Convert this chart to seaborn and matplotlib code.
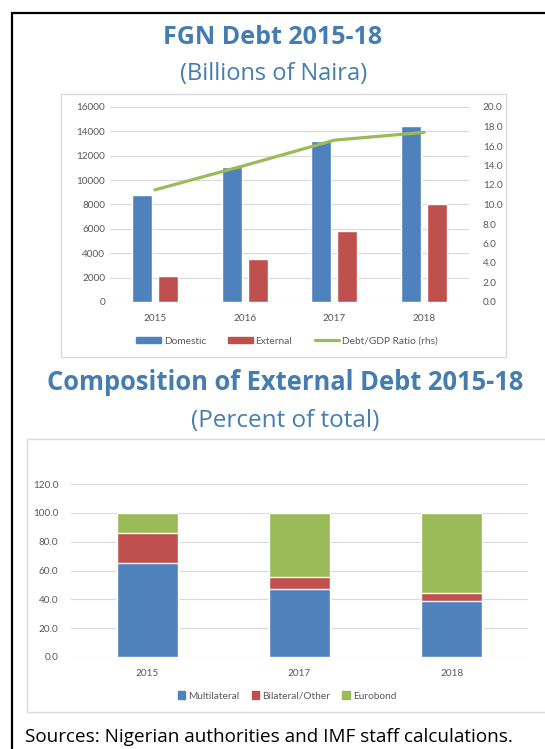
import matplotlib
matplotlib.use("Agg")
import matplotlib.pyplot as plt
import seaborn as sns
import numpy as np
import pandas as pd
from matplotlib.patches import Patch, Rectangle
from matplotlib.lines import Line2D

# Data
years = ["2015", "2016", "2017", "2018"]
domestic = [8800, 11050, 13250, 14450]
external = [2100, 3550, 5800, 8000]
debt_gdp_ratio = [11.5, 14.0, 16.6, 17.4]

comp_years = ["2015", "2017", "2018"]
multilateral = [65.1, 47.2, 38.6]
bilateral = [21.2, 8.1, 6.1]
eurobond = [13.7, 44.7, 55.3]

BLUE = "#4F81BD"
RED = "#C0504D"
GREEN = "#9BBB59"
TITLE_C = "#467DB0"
TICK_C = "#595959"
GRID_C = "#D9D9D9"

sns.set_style("white")
plt.rcParams["font.family"] = ["Lato", "DejaVu Sans"]

W, H = 545, 749
fig = plt.figure(figsize=(W / 100, H / 100), dpi=100)


def box(x0, y0, x1, y1):
    # pixel box (top-left origin) -> figure fraction rect
    return [x0 / W, 1 - y1 / H, (x1 - x0) / W, (y1 - y0) / H]


# outer frame (top and left edges visible)
fig.add_artist(Line2D([12 / W, 12 / W], [0, 1 - 12.5 / H], color="black", lw=1.6,
                      transform=fig.transFigure))
fig.add_artist(Line2D([12 / W, 1], [1 - 12.5 / H, 1 - 12.5 / H], color="black", lw=1.6,
                      transform=fig.transFigure))

# panel frames
for x0, y0, x1, y1 in [(61, 94.5, 506, 357), (27, 439, 550, 712)]:
    fig.add_artist(Rectangle((x0 / W, 1 - y1 / H), (x1 - x0) / W, (y1 - y0) / H,
                             transform=fig.transFigure, fill=False,
                             edgecolor=GRID_C, lw=1))

# titles
fig.text(273 / W, 1 - 37 / H, "FGN Debt 2015-18", ha="center", va="center",
         fontsize=18, fontweight="bold", color=TITLE_C, family="Open Sans")
fig.text(274 / W, 1 - 74 / H, "(Billions of Naira)", ha="center", va="center",
         fontsize=17, color=TITLE_C, family="Open Sans")
fig.text(285 / W, 1 - 382 / H, "Composition of External Debt 2015-18", ha="center",
         va="center", fontsize=18.4, fontweight="bold", color=TITLE_C, family="Open Sans")
fig.text(285 / W, 1 - 421 / H, "(Percent of total)", ha="center", va="center",
         fontsize=17.5, color=TITLE_C, family="Open Sans")
fig.text(25 / W, 1 - 737 / H, "Sources: Nigerian authorities and IMF staff calculations.",
         ha="left", va="center", fontsize=13.6, color="black", family="Open Sans")

# ---- chart 1: FGN debt ----
debt = pd.DataFrame({
    "year": years * 2,
    "value": domestic + external,
    "type": ["Domestic"] * len(years) + ["External"] * len(years),
})
ax1 = fig.add_axes(box(110, 107, 469, 302))
sns.barplot(data=debt, x="year", y="value", hue="type", palette=[BLUE, RED],
            width=0.58, gap=0.23, ax=ax1, legend=False, saturation=1)
ax1.set_ylim(0, 16000)
ax1.set_yticks(np.arange(0, 16001, 2000))
ax1.set_xlim(-0.5, len(years) - 0.5)
ax1.set_xlabel("")
ax1.set_ylabel("")
ax1.yaxis.grid(True, color=GRID_C, lw=0.8)
ax1.set_axisbelow(True)
ax1.tick_params(axis="both", length=0, labelsize=7.2, labelcolor=TICK_C)
ax1.tick_params(axis="x", pad=9)
sns.despine(ax=ax1, left=True, bottom=True)

ax1r = ax1.twinx()
sns.lineplot(x=np.arange(len(years)), y=debt_gdp_ratio, color=GREEN, lw=2.3, ax=ax1r)
ax1r.set_ylim(0, 20)
ax1r.set_yticks(np.arange(0, 20.1, 2))
ax1r.set_yticklabels([f"{v:.1f}" for v in np.arange(0, 20.1, 2)])
ax1r.tick_params(axis="y", length=0, labelsize=7.2, labelcolor=TICK_C, pad=10)
sns.despine(ax=ax1r, left=True, bottom=True, right=True)
ax1r.set_xlim(-0.5, len(years) - 0.5)

h1 = [Patch(color=BLUE, label="Domestic"), Patch(color=RED, label="External"),
      Line2D([], [], color=GREEN, lw=2.3, label="Debt/GDP Ratio (rhs)")]
fig.legend(handles=h1, loc="center", bbox_to_anchor=(287 / W, 1 - 341 / H), ncol=3,
           frameon=False, fontsize=7.3, labelcolor=TICK_C, handlelength=2.4,
           handleheight=0.6, handletextpad=0.3, columnspacing=2.2)

# ---- chart 2: composition (stacked via cumulative layers) ----
cum1 = np.array(multilateral)
cum2 = cum1 + np.array(bilateral)
cum3 = cum2 + np.array(eurobond)
ax2 = fig.add_axes(box(71, 484, 528, 657))
for vals, col in [(cum3, GREEN), (cum2, RED), (cum1, BLUE)]:
    sns.barplot(x=comp_years, y=vals, color=col, width=0.4, saturation=1, ax=ax2)
ax2.set_ylim(0, 120)
ax2.set_yticks(np.arange(0, 121, 20))
ax2.set_yticklabels([f"{v:.1f}" for v in np.arange(0, 121, 20)])
ax2.set_xlim(-0.5, len(comp_years) - 0.5)
ax2.yaxis.grid(True, color=GRID_C, lw=0.8)
ax2.set_axisbelow(True)
ax2.tick_params(axis="both", length=0, labelsize=7.2, labelcolor=TICK_C)
ax2.tick_params(axis="x", pad=9)
ax2.tick_params(axis="y", pad=9)
sns.despine(ax=ax2, left=True, bottom=True)

h2 = [Patch(color=BLUE, label="Multilateral"), Patch(color=RED, label="Bilateral/Other"),
      Patch(color=GREEN, label="Eurobond")]
fig.legend(handles=h2, loc="center", bbox_to_anchor=(287 / W, 1 - 696 / H), ncol=3,
           frameon=False, fontsize=7.3, labelcolor=TICK_C, handlelength=0.75,
           handleheight=0.75, handletextpad=0.3, columnspacing=1.2)

fig.savefig("out.png", dpi=100)
